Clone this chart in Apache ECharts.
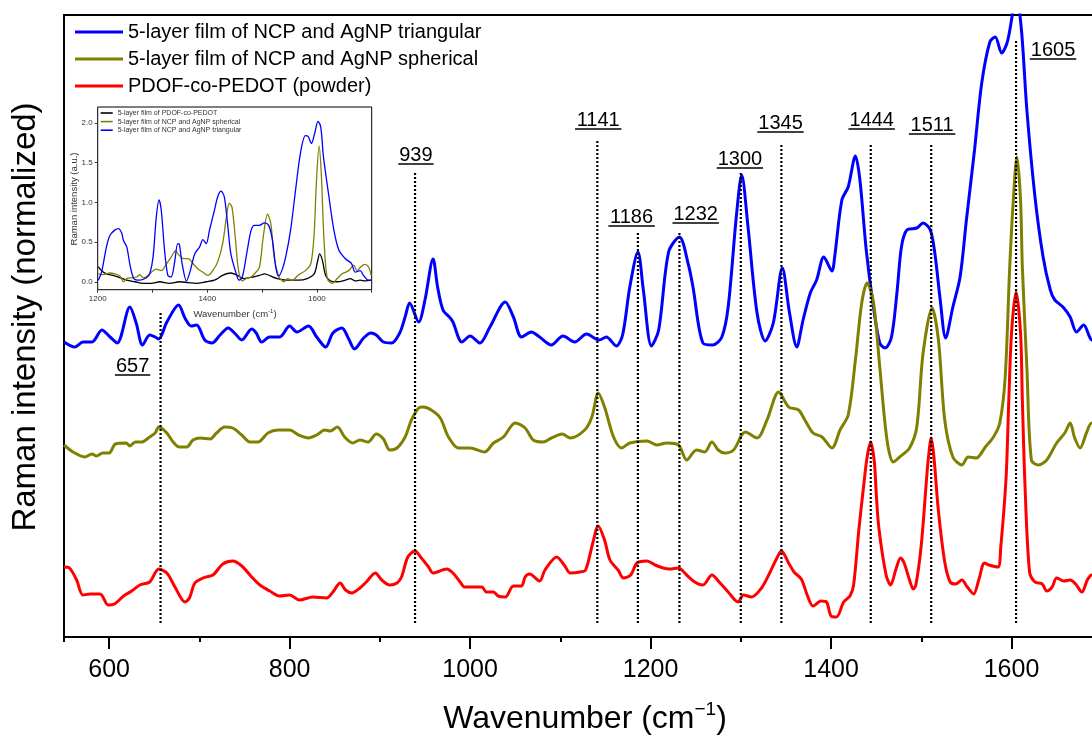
<!DOCTYPE html>
<html>
<head>
<meta charset="utf-8">
<title>Raman spectra</title>
<script src="https://cdn.jsdelivr.net/npm/echarts@6/dist/echarts.min.js"></script>
<style>
  html, body { margin:0; padding:0; background:#fff; }
  #chart { width:1092px; height:738px; }
</style>
</head>
<body>
<div id="chart"></div>
<script>
/* main spectra, stacked with offsets (normalized units) */
const TRI_NAME = '5-layer film of NCP and AgNP triangular'
const SPH_NAME = '5-layer film of NCP and AgNP spherical'
const POW_NAME = 'PDOF-co-PEDOT (powder)'
const INS_POW_NAME = '5-layer film of PDOF-co-PEDOT'

const TRI_X = [550,562,571,581,592,601,609,623,630,637,645,651,655,664,677,684,691,697,706,714,723,732,739,747,758,763,769,778,789,800,808,821,830,840,848,858,865,872,882,890,896,904,913,922,928,933,943,950,959,964,970,978,981,991,1000,1011,1022,1039,1048,1057,1068,1077,1090,1103,1116,1129,1143,1151,1162,1169,1177,1186,1192,1201,1209,1220,1232,1242,1247,1258,1269,1279,1286,1295,1301,1308,1318,1327,1336,1346,1354,1362,1369,1377,1384,1392,1401,1404,1412,1419,1427,1432,1439,1447,1454,1460,1467,1473,1478,1484,1495,1502,1510,1515,1521,1527,1535,1543,1550,1559,1567,1576,1582,1589,1595,1600,1605,1611,1617,1626,1635,1643,1648,1657,1665,1672,1680,1689,1700]
const TRI_Y = [2.95,2.90,2.95,2.95,3.07,3.00,2.94,3.30,3.14,2.92,3.02,3.00,2.98,3.15,3.32,3.19,3.11,3.12,2.97,2.94,3.02,3.09,3.04,2.97,3.08,3.04,2.95,3.00,3.00,3.11,3.05,3.11,3.00,2.90,3.04,3.09,2.99,2.88,2.99,3.04,3.02,2.95,2.94,3.04,3.20,3.34,3.15,3.37,3.78,3.50,3.27,3.19,3.15,2.95,3.01,2.94,3.10,3.35,3.20,3.00,3.05,3.00,2.92,3.01,2.95,3.03,2.97,3.00,2.91,3.02,3.50,3.85,3.47,2.91,3.07,3.85,4.00,3.72,3.50,2.94,2.92,3.00,3.30,4.20,4.62,4.10,3.24,2.96,3.14,3.69,3.24,2.90,3.17,3.44,3.57,3.80,3.66,3.80,4.37,4.50,4.81,4.57,3.87,3.30,2.94,2.89,3.00,3.44,3.90,4.07,4.09,4.14,4.07,3.84,3.37,2.99,3.30,3.60,4.17,4.87,5.54,5.95,6.00,5.84,5.94,6.17,6.45,6.07,5.27,4.40,3.80,3.47,3.37,3.30,3.20,3.05,3.12,2.97,2.96]

const SPH_X = [550,560,573,581,586,593,600,607,619,623,629,636,645,651,655,664,671,678,686,693,701,712,719,728,737,747,756,765,776,787,800,810,821,830,839,845,853,861,870,878,887,896,904,911,919,928,935,943,948,957,967,976,987,1000,1016,1026,1037,1050,1061,1070,1081,1090,1102,1111,1127,1135,1142,1149,1159,1168,1177,1196,1207,1218,1231,1240,1251,1260,1268,1275,1282,1292,1305,1318,1329,1342,1353,1364,1371,1380,1390,1401,1410,1419,1427,1434,1440,1447,1454,1462,1469,1476,1487,1495,1502,1512,1519,1526,1535,1545,1552,1561,1571,1580,1587,1593,1598,1602,1606,1610,1612,1617,1622,1630,1639,1650,1659,1665,1670,1676,1683,1689,1700]
const SPH_Y = [1.92,1.85,1.80,1.83,1.81,1.84,1.84,1.93,1.94,1.91,1.95,1.95,2.00,2.04,2.10,2.04,1.95,1.90,1.90,1.97,1.99,1.98,2.04,2.10,2.09,2.02,1.95,1.95,2.04,2.07,2.07,2.02,1.99,2.02,2.07,2.06,2.10,2.00,1.94,1.97,1.95,2.03,1.98,1.87,1.89,2.00,2.17,2.29,2.30,2.27,2.19,2.00,1.89,1.89,1.85,1.94,2.00,2.14,2.09,1.97,1.95,1.99,2.03,1.99,2.07,2.20,2.44,2.30,2.00,1.89,1.94,1.96,1.92,1.94,1.92,1.77,1.87,1.85,1.95,1.87,1.84,1.87,2.05,1.99,2.17,2.45,2.30,2.27,2.17,2.04,2.00,1.89,2.07,2.22,2.77,3.34,3.54,3.35,2.70,1.97,1.75,1.80,1.89,2.10,2.84,3.29,2.97,2.17,1.80,1.72,1.80,1.79,1.90,2.00,2.14,2.60,3.70,4.37,4.80,4.37,3.70,2.70,1.77,1.72,1.77,1.94,2.04,2.14,1.99,1.89,2.04,2.14,2.14]

const POW_X = [550,556,564,571,579,590,599,606,616,625,634,645,655,664,673,684,689,695,704,715,726,737,747,758,767,778,789,800,811,826,841,848,856,862,869,878,885,895,902,911,919,924,931,939,946,954,959,974,981,989,994,1013,1018,1026,1031,1039,1048,1057,1061,1066,1077,1083,1096,1105,1111,1122,1128,1136,1142,1149,1155,1164,1170,1178,1185,1196,1205,1214,1221,1231,1240,1249,1258,1268,1277,1286,1297,1303,1312,1323,1332,1340,1345,1353,1359,1367,1374,1380,1389,1395,1400,1406,1414,1421,1425,1431,1436,1440,1444,1448,1450,1453,1461,1466,1472,1477,1481,1487,1491,1494,1500,1506,1508,1511,1514,1519,1526,1532,1538,1545,1551,1558,1564,1570,1575,1585,1588,1594,1597,1600,1605,1610,1612,1615,1620,1626,1634,1639,1645,1650,1658,1665,1671,1678,1684,1689,1700]
const POW_Y = [0.70,0.69,0.57,0.42,0.43,0.43,0.32,0.33,0.41,0.46,0.52,0.55,0.68,0.64,0.50,0.35,0.39,0.54,0.59,0.62,0.73,0.76,0.71,0.60,0.52,0.46,0.41,0.42,0.37,0.40,0.39,0.45,0.54,0.47,0.44,0.49,0.55,0.64,0.57,0.52,0.54,0.60,0.80,0.86,0.79,0.70,0.64,0.68,0.64,0.55,0.50,0.50,0.45,0.45,0.41,0.40,0.51,0.51,0.60,0.63,0.56,0.67,0.80,0.71,0.64,0.65,0.67,0.94,1.11,0.97,0.77,0.67,0.59,0.62,0.74,0.76,0.72,0.69,0.68,0.69,0.62,0.55,0.52,0.62,0.54,0.45,0.35,0.42,0.40,0.49,0.64,0.79,0.86,0.74,0.65,0.58,0.41,0.31,0.36,0.35,0.21,0.20,0.35,0.41,0.52,1.09,1.50,1.80,1.95,1.75,1.45,1.09,0.62,0.52,0.68,0.79,0.74,0.57,0.48,0.52,0.92,1.60,1.80,1.99,1.80,1.26,0.75,0.55,0.53,0.57,0.50,0.43,0.58,0.74,0.72,0.70,0.89,1.60,2.37,3.04,3.45,3.04,2.37,1.50,0.65,0.55,0.53,0.46,0.50,0.59,0.56,0.57,0.53,0.45,0.57,0.62,0.62]

/* peak markers */
const PEAKS    = [657, 939, 1141, 1186, 1232, 1300, 1345, 1444, 1511, 1605]
const PEAK_TOP = [3.25, 4.64, 4.96, 4.05, 4.06, 4.64, 4.94, 4.94, 4.93, 5.97]
const PEAK_BOTTOM = 0.14
const LABEL_X  = [626, 940, 1142, 1179, 1250, 1299, 1344, 1445, 1512, 1646]
const LABEL_Y  = [2.62, 4.73, 5.08, 4.11, 4.14, 4.69, 5.05, 5.08, 5.03, 5.78]

/* inset spectra (a.u.) */
const INS_TRI_X = [1201,1207,1216,1222,1231,1238,1244,1247,1253,1259,1266,1277,1289,1295,1301,1307,1312,1316,1322,1328,1334,1340,1346,1349,1354,1362,1369,1377,1386,1392,1398,1404,1413,1419,1425,1431,1437,1443,1452,1458,1464,1474,1480,1486,1495,1504,1512,1519,1525,1530,1536,1543,1552,1561,1570,1579,1584,1590,1596,1602,1607,1612,1622,1631,1640,1652,1663,1670,1679,1685,1694,1699]
const INS_TRI_Y = [0.02,0.12,0.44,0.58,0.65,0.67,0.61,0.52,0.44,0.21,0.04,0.02,0.05,0.10,0.31,0.82,1.03,0.90,0.40,0.08,0.06,0.23,0.48,0.47,0.23,0.01,0.14,0.35,0.44,0.53,0.48,0.65,0.90,1.07,1.14,1.07,0.73,0.35,0.12,0.02,0.06,0.44,0.65,0.71,0.71,0.74,0.71,0.52,0.18,0.07,0.14,0.31,0.65,1.15,1.62,1.84,1.83,1.74,1.87,2.02,1.95,1.57,1.07,0.65,0.40,0.29,0.23,0.12,0.14,0.08,0.02,0.02]

const INS_SPH_X = [1201,1210,1222,1231,1241,1247,1253,1262,1271,1277,1283,1290,1298,1307,1316,1325,1334,1342,1349,1357,1365,1374,1383,1392,1401,1410,1419,1428,1435,1440,1445,1451,1457,1464,1471,1480,1486,1495,1502,1510,1516,1522,1531,1540,1546,1555,1567,1579,1589,1595,1599,1604,1608,1613,1619,1628,1637,1646,1658,1667,1673,1679,1687,1694,1699]
const INS_SPH_Y = [0.10,0.09,0.11,0.10,0.07,0.00,0.04,0.05,0.06,0.09,0.05,0.07,0.12,0.16,0.14,0.22,0.31,0.39,0.33,0.29,0.29,0.23,0.16,0.12,0.08,0.14,0.25,0.48,0.82,0.99,0.94,0.56,0.14,0.01,0.04,0.06,0.10,0.18,0.56,0.85,0.73,0.31,0.06,0.00,0.04,0.02,0.09,0.14,0.23,0.61,1.24,1.71,1.36,0.52,0.04,-0.02,0.04,0.10,0.14,0.21,0.14,0.18,0.22,0.19,0.08]

const INS_POW_X = [1201,1207,1216,1228,1241,1253,1268,1283,1298,1313,1331,1349,1365,1380,1398,1413,1428,1443,1455,1467,1483,1495,1505,1516,1528,1543,1555,1567,1582,1595,1601,1605,1610,1616,1625,1637,1652,1661,1670,1679,1688,1699]
const INS_POW_Y = [0.19,0.14,0.10,0.08,0.05,0.02,0.00,-0.02,-0.02,0.00,-0.02,0.00,-0.01,-0.02,0.00,0.02,0.08,0.11,0.08,0.04,0.06,0.08,0.10,0.07,0.04,0.02,0.02,0.02,0.04,0.10,0.25,0.35,0.27,0.08,0.01,0.00,0.02,0.04,0.01,0.02,0.01,0.02]

const FONT = '"Liberation Sans", Arial, sans-serif'

function pairs(xs, ys) {
  return xs.map((x, i) => [x, ys[i]])
}

function spectrum(name, xs, ys, color, width, inset) {
  return {
    name, type: 'line',
    xAxisIndex: inset ? 2 : 0, yAxisIndex: inset ? 1 : 0,
    data: pairs(xs, ys),
    symbol: 'none', smooth: 0.3,
    lineStyle: { color, width },
    itemStyle: { color },
    emphasis: { disabled: true },
    silent: true
  }
}

const chart = echarts.init(document.getElementById('chart'))

chart.setOption({
  animation: false,
  grid: [
    { left: 64, top: 15, width: 1128, height: 622, show: true, borderColor: '#000', borderWidth: 2,
      containLabel: false, outerBoundsMode: 'none' },
    { left: 97.7, top: 107, width: 274, height: 182.7, show: true, borderColor: '#000', borderWidth: 1,
      containLabel: false, outerBoundsMode: 'none' }
  ],
  xAxis: [
    { // minor ticks every 100, data axis
      type: 'value', gridIndex: 0, position: 'bottom', min: 550, max: 1800,
      minInterval: 100, maxInterval: 100,
      axisLine: { show: false, onZero: false },
      axisTick: { length: 5, lineStyle: { color: '#000', width: 2 } },
      axisLabel: { show: false },
      splitLine: { show: false }
    },
    { // major ticks and labels every 200
      type: 'value', gridIndex: 0, position: 'bottom', min: 550, max: 1800,
      minInterval: 200, maxInterval: 200,
      axisLine: { show: false, onZero: false },
      axisTick: { length: 12, lineStyle: { color: '#000', width: 2 } },
      axisLabel: { showMinLabel: false, showMaxLabel: false, margin: 21,
        color: '#000', fontSize: 25, fontFamily: FONT, formatter: v => String(v) },
      splitLine: { show: false }
    },
    { // inset
      type: 'value', gridIndex: 1, position: 'bottom', min: 1200, max: 1700,
      minInterval: 100, maxInterval: 100,
      axisLine: { show: false, onZero: false },
      axisTick: { length: 3, lineStyle: { color: '#333', width: 1 } },
      axisLabel: { margin: 5, color: '#333', fontSize: 8, fontFamily: FONT,
        formatter: v => (v % 200 === 0 && v < 1700 ? String(v) : '') },
      splitLine: { show: false }
    }
  ],
  yAxis: [
    { type: 'value', gridIndex: 0, min: 0, max: 6.22,
      axisLine: { show: false }, axisTick: { show: false }, axisLabel: { show: false },
      splitLine: { show: false } },
    { type: 'value', gridIndex: 1, min: -0.1, max: 2.2,
      minInterval: 0.5, maxInterval: 0.5,
      axisLine: { show: false, onZero: false },
      axisTick: { length: 3, lineStyle: { color: '#333', width: 1 } },
      axisLabel: { showMinLabel: false, showMaxLabel: false, margin: 5,
        color: '#333', fontSize: 8, fontFamily: FONT, formatter: v => v.toFixed(1) },
      splitLine: { show: false } }
  ],
  legend: [
    { data: [TRI_NAME, SPH_NAME, POW_NAME], orient: 'vertical', left: 75, top: 22, padding: 0,
      icon: 'rect', itemWidth: 48, itemHeight: 3, itemGap: 7, selectedMode: false,
      textStyle: { fontSize: 20, color: '#000', fontFamily: FONT } },
    { data: [INS_POW_NAME, SPH_NAME, TRI_NAME], orient: 'vertical', left: 100.7, top: 109.5, padding: 0,
      icon: 'rect', itemWidth: 12, itemHeight: 1.6, itemGap: 1.6, selectedMode: false,
      textStyle: { fontSize: 7, color: '#333', fontFamily: FONT } }
  ],
  graphic: [
    { type: 'text', x: 26, y: 317, rotation: Math.PI / 2, silent: true,
      style: { text: 'Raman intensity (normalized)', font: '33px ' + FONT, fill: '#000',
        align: 'center', verticalAlign: 'middle' } },
    { type: 'text', x: 585, y: 719, silent: true,
      style: { text: '{a|Wavenumber (cm}{b|−1}{a|)}', align: 'center', verticalAlign: 'middle',
        rich: {
          a: { fontSize: 32, fontFamily: FONT, fill: '#000', lineHeight: 37 },
          b: { fontSize: 19, fontFamily: FONT, fill: '#000', lineHeight: 37, verticalAlign: 'top' }
        } } },
    { type: 'text', x: 74, y: 199, rotation: Math.PI / 2, silent: true,
      style: { text: 'Raman intensity (a.u.)', font: '9.5px ' + FONT, fill: '#333',
        align: 'center', verticalAlign: 'middle' } },
    { type: 'text', x: 235, y: 314, silent: true,
      style: { text: '{a|Wavenumber (cm}{b|-1}{a|)}', align: 'center', verticalAlign: 'middle',
        rich: {
          a: { fontSize: 9.5, fontFamily: FONT, fill: '#333', lineHeight: 12 },
          b: { fontSize: 6, fontFamily: FONT, fill: '#333', lineHeight: 12, verticalAlign: 'top' }
        } } }
  ],
  series: [
    spectrum(TRI_NAME, TRI_X, TRI_Y, '#0000FF', 3, false),
    spectrum(SPH_NAME, SPH_X, SPH_Y, '#808000', 3, false),
    spectrum(POW_NAME, POW_X, POW_Y, '#FF0000', 3, false),
    spectrum(INS_POW_NAME, INS_POW_X, INS_POW_Y, '#000000', 1.3, true),
    spectrum(SPH_NAME, INS_SPH_X, INS_SPH_Y, '#808000', 1.3, true),
    spectrum(TRI_NAME, INS_TRI_X, INS_TRI_Y, '#0000FF', 1.3, true),
    {
      type: 'custom', xAxisIndex: 0, yAxisIndex: 0, z: 5, silent: true,
      data: PEAKS.map((p, i) => [p, PEAK_TOP[i], LABEL_X[i], LABEL_Y[i]]),
      renderItem(params, api) {
        const p = api.value(0)
        const a = api.coord([p, PEAK_BOTTOM])
        const b = api.coord([p, api.value(1)])
        const c = api.coord([api.value(2), api.value(3)])
        const txt = String(p)
        const w = txt.length * 11.1 + 2
        return {
          type: 'group',
          children: [
            { type: 'line', shape: { x1: a[0], y1: a[1], x2: b[0], y2: b[1] },
              style: { stroke: '#000', lineWidth: 2.2, lineDash: [2, 2] } },
            { type: 'text', x: c[0], y: c[1] + 1,
              style: { text: txt, fill: '#000', font: '20px ' + FONT, align: 'center', verticalAlign: 'bottom' } },
            { type: 'line', shape: { x1: c[0] - w / 2, y1: c[1], x2: c[0] + w / 2, y2: c[1] },
              style: { stroke: '#000', lineWidth: 1.6 } }
          ]
        }
      }
    }
  ]
})
</script>
</body>
</html>
